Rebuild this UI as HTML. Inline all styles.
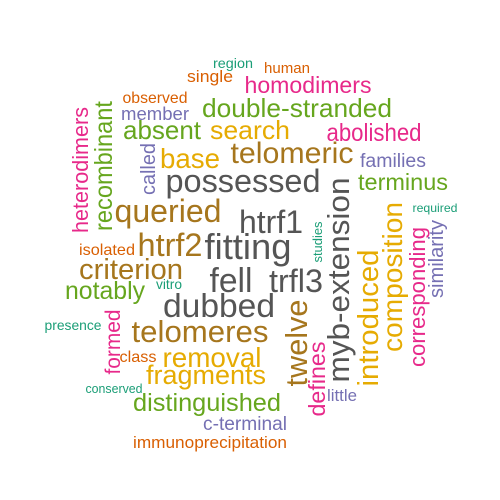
<!DOCTYPE html>
<html><head><meta charset="utf-8"><style>
html,body{margin:0;padding:0;background:#fff;}
svg{display:block;font-family:"Liberation Sans",Arial,sans-serif;}
</style></head><body>
<svg width="500" height="500" viewBox="0 0 500 500">
<g text-anchor="middle" lengthAdjust="spacingAndGlyphs">
<text x="233" y="68" font-size="14" fill="#1B9E77" textLength="40" lengthAdjust="spacingAndGlyphs">region</text>
<text x="287" y="73" font-size="15" fill="#D95F02" textLength="46" lengthAdjust="spacingAndGlyphs">human</text>
<text x="210" y="82" font-size="17" fill="#D95F02" textLength="46" lengthAdjust="spacingAndGlyphs">single</text>
<text x="308" y="93" font-size="23" fill="#E7298A" textLength="127" lengthAdjust="spacingAndGlyphs">homodimers</text>
<text x="155" y="103" font-size="16" fill="#D95F02" textLength="65" lengthAdjust="spacingAndGlyphs">observed</text>
<text x="155" y="120" font-size="18" fill="#7570B3" textLength="68" lengthAdjust="spacingAndGlyphs">member</text>
<text x="297" y="117" font-size="26" fill="#66A61E" textLength="190" lengthAdjust="spacingAndGlyphs">double-stranded</text>
<text x="162" y="139" font-size="26" fill="#66A61E" textLength="78" lengthAdjust="spacingAndGlyphs">absent</text>
<text x="250" y="139" font-size="26" fill="#E6AB02" textLength="80" lengthAdjust="spacingAndGlyphs">search</text>
<text x="374" y="141" font-size="25" fill="#E7298A" textLength="95" lengthAdjust="spacingAndGlyphs">abolished</text>
<text x="190" y="168" font-size="28" fill="#E6AB02" textLength="60" lengthAdjust="spacingAndGlyphs">base</text>
<text x="292" y="163" font-size="30" fill="#A6761D" textLength="123" lengthAdjust="spacingAndGlyphs">telomeric</text>
<text x="393" y="167" font-size="19" fill="#7570B3" textLength="66" lengthAdjust="spacingAndGlyphs">families</text>
<text x="243" y="192" font-size="32" fill="#555555" textLength="155" lengthAdjust="spacingAndGlyphs">possessed</text>
<text x="403" y="190" font-size="23" fill="#66A61E" textLength="90" lengthAdjust="spacingAndGlyphs">terminus</text>
<text x="435" y="212" font-size="12" fill="#1B9E77" textLength="45" lengthAdjust="spacingAndGlyphs">required</text>
<text x="168" y="222" font-size="32" fill="#A6761D" textLength="107" lengthAdjust="spacingAndGlyphs">queried</text>
<text x="271" y="233" font-size="32" fill="#555555" textLength="64" lengthAdjust="spacingAndGlyphs">htrf1</text>
<text x="170" y="256" font-size="32" fill="#A6761D" textLength="65" lengthAdjust="spacingAndGlyphs">htrf2</text>
<text x="248" y="259" font-size="36" fill="#555555" textLength="87" lengthAdjust="spacingAndGlyphs">fitting</text>
<text x="107" y="255" font-size="16" fill="#D95F02" textLength="56" lengthAdjust="spacingAndGlyphs">isolated</text>
<text x="131" y="279" font-size="29" fill="#A6761D" textLength="104" lengthAdjust="spacingAndGlyphs">criterion</text>
<text x="231" y="292" font-size="34" fill="#555555" textLength="43" lengthAdjust="spacingAndGlyphs">fell</text>
<text x="296" y="292" font-size="32" fill="#555555" textLength="54" lengthAdjust="spacingAndGlyphs">trfl3</text>
<text x="105" y="299" font-size="25" fill="#66A61E" textLength="80" lengthAdjust="spacingAndGlyphs">notably</text>
<text x="169" y="289" font-size="14" fill="#1B9E77" textLength="26" lengthAdjust="spacingAndGlyphs">vitro</text>
<text x="219" y="317" font-size="33" fill="#555555" textLength="112" lengthAdjust="spacingAndGlyphs">dubbed</text>
<text x="73" y="330" font-size="14" fill="#1B9E77" textLength="57" lengthAdjust="spacingAndGlyphs">presence</text>
<text x="200" y="342" font-size="31" fill="#A6761D" textLength="137" lengthAdjust="spacingAndGlyphs">telomeres</text>
<text x="138" y="362" font-size="16" fill="#D95F02" textLength="37" lengthAdjust="spacingAndGlyphs">class</text>
<text x="212" y="367" font-size="28" fill="#E6AB02" textLength="99" lengthAdjust="spacingAndGlyphs">removal</text>
<text x="206" y="384" font-size="27" fill="#E6AB02" textLength="120" lengthAdjust="spacingAndGlyphs">fragments</text>
<text x="114" y="393" font-size="12.5" fill="#1B9E77" textLength="57" lengthAdjust="spacingAndGlyphs">conserved</text>
<text x="342" y="401" font-size="17" fill="#7570B3" textLength="30" lengthAdjust="spacingAndGlyphs">little</text>
<text x="207" y="411" font-size="25" fill="#66A61E" textLength="148" lengthAdjust="spacingAndGlyphs">distinguished</text>
<text x="245" y="430" font-size="19" fill="#7570B3" textLength="84" lengthAdjust="spacingAndGlyphs">c-terminal</text>
<text x="210" y="448" font-size="17" fill="#D95F02" textLength="154" lengthAdjust="spacingAndGlyphs">immunoprecipitation</text>

<text x="88" y="170" transform="rotate(-90 88 170)" font-size="22" fill="#E7298A" textLength="126" lengthAdjust="spacingAndGlyphs">heterodimers</text>
<text x="112" y="166" transform="rotate(-90 112 166)" font-size="25" fill="#66A61E" textLength="130" lengthAdjust="spacingAndGlyphs">recombinant</text>
<text x="155" y="169" transform="rotate(-90 155 169)" font-size="20" fill="#7570B3" textLength="52" lengthAdjust="spacingAndGlyphs">called</text>
<text x="349" y="280" transform="rotate(-90 349 280)" font-size="31" fill="#555555" textLength="205" lengthAdjust="spacingAndGlyphs">myb-extension</text>
<text x="307" y="343" transform="rotate(-90 307 343)" font-size="31" fill="#A6761D" textLength="87" lengthAdjust="spacingAndGlyphs">twelve</text>
<text x="378" y="318" transform="rotate(-90 378 318)" font-size="29" fill="#E6AB02" textLength="137" lengthAdjust="spacingAndGlyphs">introduced</text>
<text x="402" y="277" transform="rotate(-90 402 277)" font-size="28" fill="#E6AB02" textLength="150" lengthAdjust="spacingAndGlyphs">composition</text>
<text x="425" y="297" transform="rotate(-90 425 297)" font-size="22" fill="#E7298A" textLength="140" lengthAdjust="spacingAndGlyphs">corresponding</text>
<text x="443" y="259" transform="rotate(-90 443 259)" font-size="20" fill="#7570B3" textLength="78" lengthAdjust="spacingAndGlyphs">similarity</text>
<text x="322" y="242" transform="rotate(-90 322 242)" font-size="13" fill="#1B9E77" textLength="41" lengthAdjust="spacingAndGlyphs">studies</text>
<text x="120" y="342" transform="rotate(-90 120 342)" font-size="21" fill="#E7298A" textLength="65" lengthAdjust="spacingAndGlyphs">formed</text>
<text x="325" y="379" transform="rotate(-90 325 379)" font-size="23" fill="#E7298A" textLength="75" lengthAdjust="spacingAndGlyphs">defines</text>
</g>
</svg>
</body></html>
